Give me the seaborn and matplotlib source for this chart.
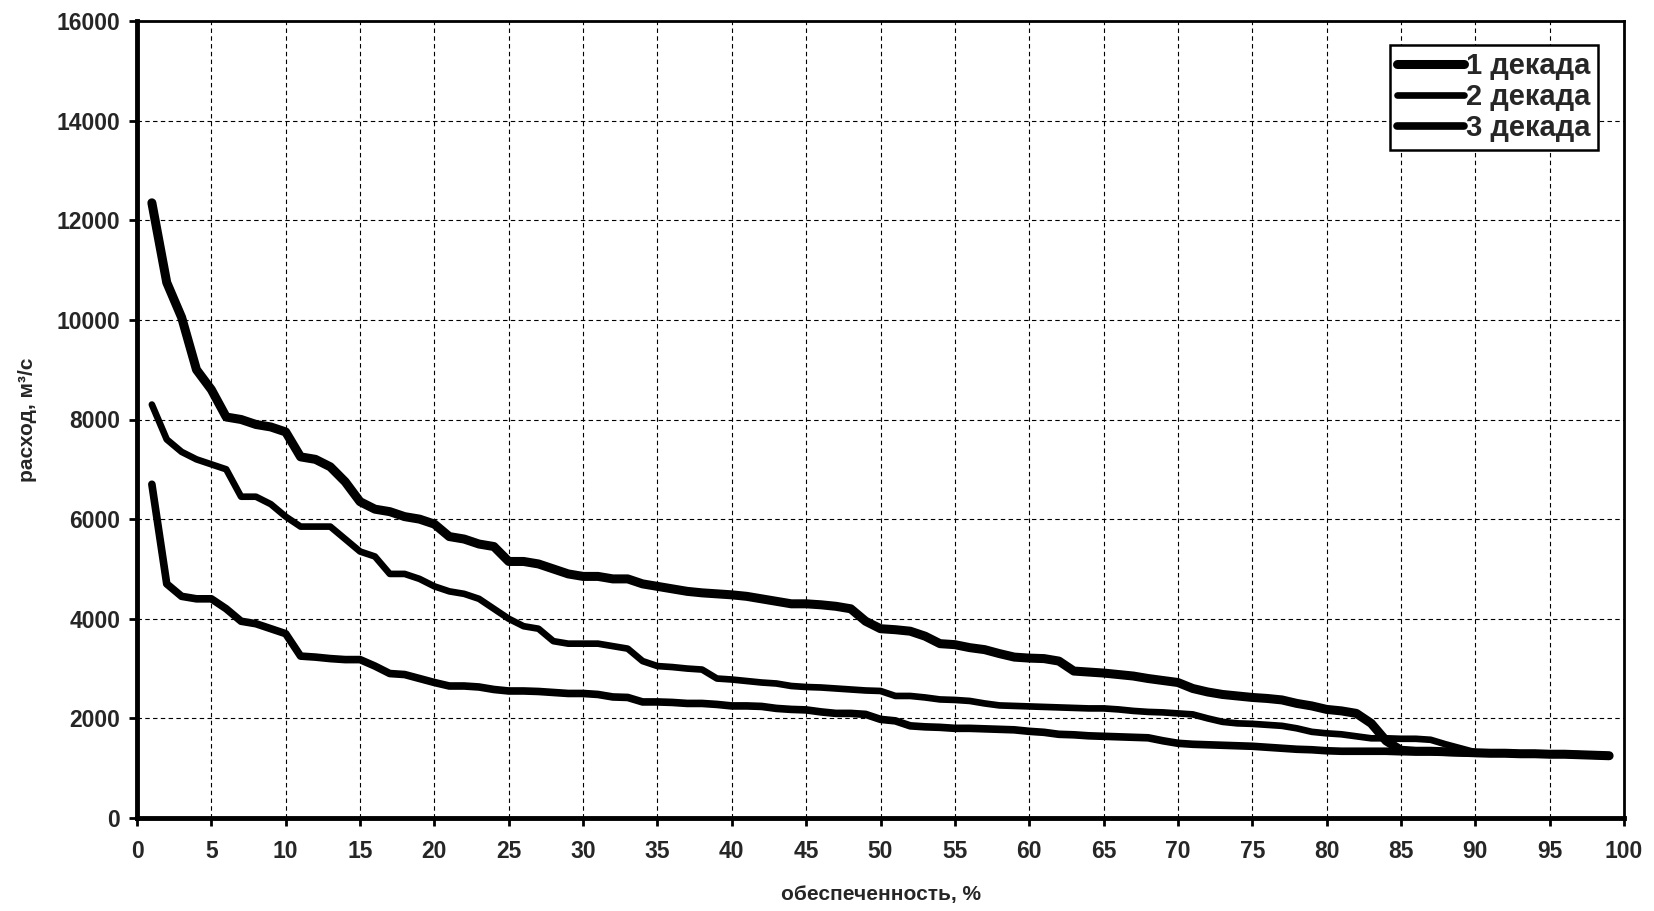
import numpy as np
import pandas as pd
import matplotlib
matplotlib.use("Agg")
import matplotlib.pyplot as plt
import seaborn as sns

x_pct = list(range(1, 100))

dekada_1 = [12350, 10750, 10050, 9000, 8600, 8050, 8000, 7900, 7850, 7750,
            7250, 7200, 7050, 6750, 6350, 6200, 6150, 6050, 6000, 5900,
            5650, 5600, 5500, 5450, 5150, 5150, 5100, 5000, 4900, 4850,
            4850, 4800, 4800, 4700, 4650, 4600, 4550, 4520, 4500, 4480,
            4450, 4400, 4350, 4300, 4300, 4280, 4250, 4200, 3950, 3800,
            3780, 3750, 3650, 3500, 3480, 3420, 3380, 3300, 3230, 3210,
            3200, 3150, 2950, 2930, 2910, 2880, 2850, 2800, 2760, 2720,
            2600, 2530, 2480, 2450, 2420, 2400, 2370, 2300, 2250, 2180,
            2150, 2100, 1900, 1550, 1360, 1340, 1340, 1330, 1320, 1310,
            1300, 1300, 1290, 1290, 1280, 1280, 1270, 1260, 1250]

dekada_2 = [8300, 7600, 7350, 7200, 7100, 7000, 6450, 6450, 6300, 6050,
            5850, 5850, 5850, 5600, 5350, 5250, 4900, 4900, 4800, 4650,
            4550, 4500, 4400, 4200, 4000, 3850, 3800, 3550, 3500, 3500,
            3500, 3450, 3400, 3150, 3050, 3030, 3000, 2980, 2800, 2780,
            2750, 2720, 2700, 2650, 2630, 2620, 2600, 2580, 2560, 2550,
            2450, 2450, 2420, 2380, 2370, 2350, 2300, 2260, 2250, 2240,
            2230, 2220, 2210, 2200, 2200, 2180, 2150, 2130, 2120, 2100,
            2080, 2000, 1930, 1900, 1890, 1870, 1850, 1800, 1730, 1700,
            1680, 1640, 1600, 1600, 1590, 1590, 1570, 1480, 1400, 1320,
            1300, 1300, 1290, 1290, 1280, 1280, 1270, 1260, 1250]

dekada_3 = [6700, 4700, 4450, 4400, 4400, 4200, 3950, 3900, 3800, 3700,
            3250, 3230, 3200, 3180, 3180, 3050, 2900, 2880, 2800, 2720,
            2650, 2650, 2630, 2580, 2550, 2550, 2540, 2520, 2500, 2500,
            2480, 2430, 2420, 2330, 2330, 2320, 2300, 2300, 2280, 2250,
            2250, 2240, 2200, 2180, 2170, 2130, 2100, 2100, 2080, 1980,
            1950, 1850, 1830, 1820, 1800, 1800, 1790, 1780, 1770, 1740,
            1720, 1680, 1670, 1650, 1640, 1630, 1620, 1610, 1550, 1500,
            1480, 1470, 1460, 1450, 1440, 1420, 1400, 1380, 1370, 1350,
            1340, 1340, 1340, 1340, 1330, 1330, 1330, 1320, 1310, 1300,
            1300, 1300, 1290, 1290, 1280, 1280, 1270, 1260, 1250]

series_names = ["1 декада", "2 декада", "3 декада"]
x_ticks = list(range(0, 101, 5))
y_ticks = list(range(0, 16001, 2000))

sns.set_theme(style="white")
plt.rcParams['font.family'] = ['Liberation Sans', 'DejaVu Sans']
plt.rcParams['font.weight'] = 'bold'

fig = plt.figure(figsize=(16.54, 9.11), dpi=100)
ax = fig.add_axes([137/1654, 1-818/911, (1624-137)/1654, (818-21)/911])

widths = [6.5, 4.8, 5.5]
for name, vals, lw in zip(series_names, [dekada_1, dekada_2, dekada_3], widths):
    df = pd.DataFrame({"x": x_pct, "y": vals})
    sns.lineplot(data=df, x="x", y="y", ax=ax, color="black", linewidth=lw,
                 label=name, solid_capstyle="round", solid_joinstyle="round")

ax.set_xlim(0, 100)
ax.set_ylim(0, 16000)
ax.set_xticks(x_ticks)
ax.set_yticks(y_ticks)
ax.set_xticklabels([str(v) for v in x_ticks], fontsize=16.5, fontweight="bold")
ax.set_yticklabels([str(v) for v in y_ticks], fontsize=16.5, fontweight="bold")
ax.tick_params(axis="both", direction="out", length=6, width=2, color="black",
               bottom=True, left=True)
ax.tick_params(axis="y", pad=6)
ax.tick_params(axis="x", pad=10)

ax.grid(True, color="black", linestyle=(0, (4, 3)), linewidth=0.8)
for side, lw in [("left", 3.5), ("bottom", 3.5), ("top", 2.0), ("right", 2.0)]:
    ax.spines[side].set_visible(True)
    ax.spines[side].set_color("black")
    ax.spines[side].set_linewidth(lw)

ax.set_xlabel("обеспеченность, %", fontsize=15, fontweight="bold", labelpad=16)
ax.set_ylabel("расход, м³/с", fontsize=15, fontweight="bold", labelpad=14)

leg = ax.legend(loc="upper right", bbox_to_anchor=(0.992, 0.988), frameon=True,
                fancybox=False, shadow=False, handlelength=2.3,
                handletextpad=0.05, borderpad=0.25, labelspacing=0.1,
                prop={"weight": "bold", "size": 21})
leg.get_frame().set_edgecolor("black")
leg.get_frame().set_linewidth(1.8)
leg.get_frame().set_alpha(1)

fig.savefig("out.png", dpi=100)
